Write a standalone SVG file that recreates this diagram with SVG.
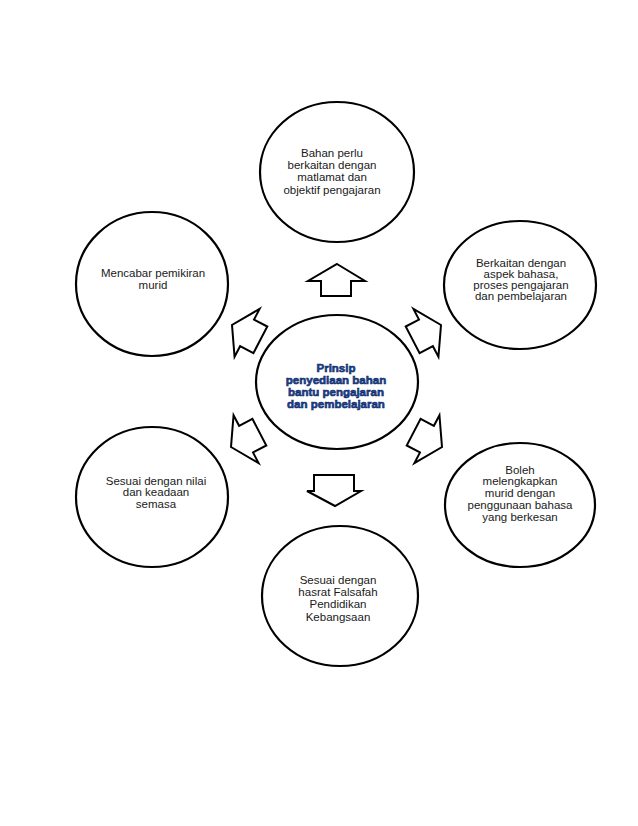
<svg xmlns="http://www.w3.org/2000/svg" width="638" height="826" viewBox="0 0 638 826">
<style>
.c{fill:#fff;stroke:#000;stroke-width:2.2}
.a{fill:#fff;stroke:#000;stroke-width:2;stroke-linejoin:miter}
.t{font-family:"Liberation Sans",Arial,sans-serif;font-size:11.5px;fill:#1a1a1a;text-anchor:middle}
.m{font-family:"Liberation Sans",Arial,sans-serif;font-size:11.5px;font-weight:bold;fill:#1f4597;stroke:#0b2a66;stroke-width:0.6;text-anchor:middle}
</style>
<defs>
<polygon id="arr" points="0,0 -17,-27 -17,-15 -32,-15 -32,15 -17,15 -17,27"/>
</defs>
<rect width="638" height="826" fill="#fff"/>
<g id="connectors">
<polygon class="a" points="337,264 365,281 351,281 351,296 321,296 321,281 308,281"/>
<polygon class="a" points="314,475 354,475 354,491 361,491 335,506 307,491 314,491"/>
<use href="#arr" class="a" transform="translate(232,325) rotate(207.6)"/>
<use href="#arr" class="a" transform="translate(441,325) rotate(-27.6)"/>
<use href="#arr" class="a" transform="translate(231,447) rotate(152.4)"/>
<use href="#arr" class="a" transform="translate(442,447) rotate(27.6)"/>
</g>
<g id="center">
<ellipse class="c" cx="337" cy="382" rx="81" ry="67"/>
<text class="m" x="336" y="372">Prinsip</text>
<text class="m" x="336" y="384">penyediaan bahan</text>
<text class="m" x="336" y="396">bantu pengajaran</text>
<text class="m" x="336" y="408">dan pembelajaran</text>
</g>
<g id="top">
<ellipse class="c" cx="337" cy="172" rx="77" ry="70"/>
<text class="t" x="332" y="157">Bahan perlu</text>
<text class="t" x="332" y="169">berkaitan dengan</text>
<text class="t" x="332" y="181">matlamat dan</text>
<text class="t" x="332" y="194">objektif pengajaran</text>
</g>
<g id="top-right">
<ellipse class="c" cx="520" cy="285" rx="76" ry="64"/>
<text class="t" x="521" y="267">Berkaitan dengan</text>
<text class="t" x="521" y="278">aspek bahasa,</text>
<text class="t" x="521" y="289">proses pengajaran</text>
<text class="t" x="521" y="300">dan pembelajaran</text>
</g>
<g id="top-left">
<ellipse class="c" cx="152" cy="284" rx="76" ry="72"/>
<text class="t" x="153" y="277">Mencabar pemikiran</text>
<text class="t" x="153" y="289">murid</text>
</g>
<g id="bottom-left">
<ellipse class="c" cx="152" cy="497" rx="76" ry="70"/>
<text class="t" x="156" y="485">Sesuai dengan nilai</text>
<text class="t" x="156" y="496">dan keadaan</text>
<text class="t" x="156" y="508">semasa</text>
</g>
<g id="bottom-right">
<ellipse class="c" cx="520" cy="505" rx="75" ry="62"/>
<text class="t" x="520" y="474">Boleh</text>
<text class="t" x="520" y="485">melengkapkan</text>
<text class="t" x="520" y="497">murid dengan</text>
<text class="t" x="520" y="509">penggunaan bahasa</text>
<text class="t" x="520" y="521">yang berkesan</text>
</g>
<g id="bottom">
<ellipse class="c" cx="340" cy="596" rx="78" ry="70"/>
<text class="t" x="338" y="584">Sesuai dengan</text>
<text class="t" x="338" y="596">hasrat Falsafah</text>
<text class="t" x="338" y="608">Pendidikan</text>
<text class="t" x="338" y="621">Kebangsaan</text>
</g>
</svg>
